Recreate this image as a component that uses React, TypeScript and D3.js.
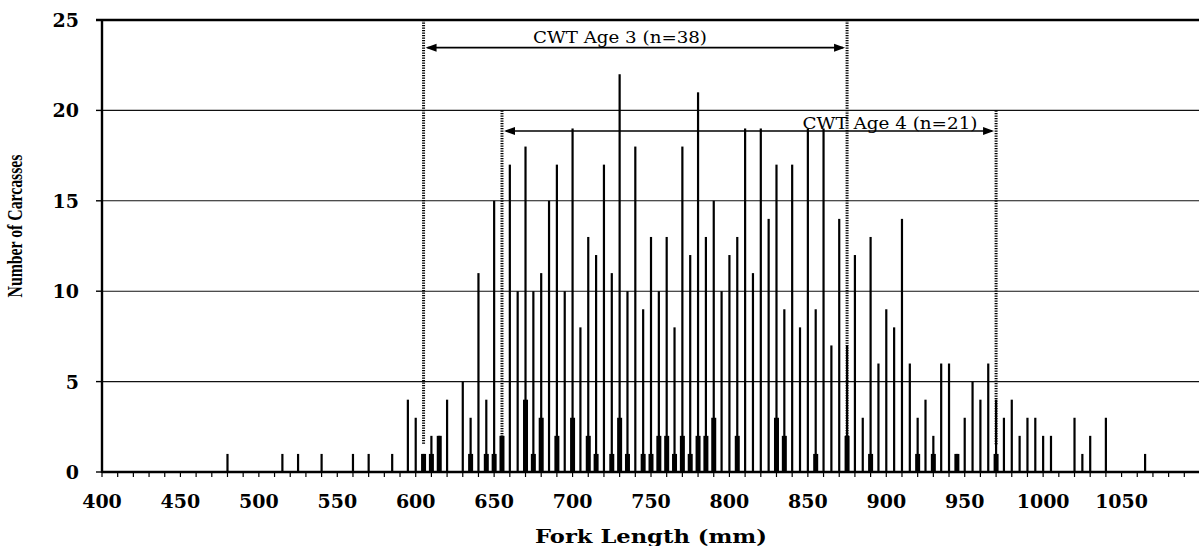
import React, { useEffect } from 'react';
import * as d3 from 'd3';

// Fork length bins (mm)
const lengthsMm = [
  480, 515, 525, 540, 560, 570, 585, 595, 600, 605,
  610, 615, 620, 630, 635, 640, 645, 650, 655, 660,
  665, 670, 675, 680, 685, 690, 695, 700, 705, 710,
  715, 720, 725, 730, 735, 740, 745, 750, 755, 760,
  765, 770, 775, 780, 785, 790, 795, 800, 805, 810,
  815, 820, 825, 830, 835, 840, 845, 850, 855, 860,
  865, 870, 875, 880, 885, 890, 895, 900, 905, 910,
  915, 920, 925, 930, 935, 940, 945, 950, 955, 960,
  965, 970, 975, 980, 985, 990, 995, 1000, 1005, 1020,
  1025, 1030, 1040, 1065,
];
// All carcasses (thin bars)
const allCarcasses = [
  1, 1, 1, 1, 1, 1, 1, 4, 3, 1,
  2, 2, 4, 5, 3, 11, 4, 15, 2, 17,
  10, 18, 10, 11, 15, 17, 10, 19, 8, 13,
  12, 17, 11, 22, 10, 18, 9, 13, 10, 13,
  8, 18, 12, 21, 13, 15, 10, 12, 13, 19,
  11, 19, 14, 17, 9, 17, 8, 19, 9, 19,
  7, 14, 7, 12, 3, 13, 6, 9, 8, 14,
  6, 3, 4, 2, 6, 6, 1, 3, 5, 4,
  6, 4, 3, 4, 2, 3, 3, 2, 2, 3,
  1, 2, 3, 1,
];
// CWT carcasses (thick bars)
const cwtCarcasses = [
  0, 0, 0, 0, 0, 0, 0, 0, 0, 1,
  1, 2, 0, 0, 1, 0, 1, 1, 2, 0,
  0, 4, 1, 3, 0, 2, 0, 3, 0, 2,
  1, 0, 1, 3, 1, 0, 1, 1, 2, 2,
  1, 2, 1, 2, 2, 3, 0, 0, 2, 0,
  0, 0, 0, 3, 2, 0, 0, 0, 1, 0,
  0, 0, 2, 0, 0, 1, 0, 0, 0, 0,
  0, 1, 0, 1, 0, 0, 1, 0, 0, 0,
  0, 1, 0, 0, 0, 0, 0, 0, 0, 0,
  0, 0, 0, 0,
];

const xTickLabels = [400, 450, 500, 550, 600, 650, 700, 750, 800, 850, 900, 950, 1000, 1050];
const yTicks = [0, 5, 10, 15, 20, 25];

const ageLabels = ['CWT Age 3 (n=38)', 'CWT Age 4 (n=21)'];
const ageFrom = [605, 655];
const ageTo = [875, 970];
const ageTop = [25, 20];
const ageArrowAt = [23.47, 18.86];

export default function App() {
  useEffect(() => {
    document.body.style.margin = '0';
  }, []);

  const W = 1199;
  const H = 546;
  const x = d3.scaleLinear().domain([400, 1100]).range([102, 1200]);
  const y = d3.scaleLinear().domain([0, 25]).range([472, 20]);

  const minorTicks = d3.range(400, 1101, 10);
  const thinW = 2.2;
  const thickW = 5;
  const serif = '"DejaVu Serif", "Liberation Serif", serif';

  return (
    <svg width={W} height={H} style={{ display: 'block', background: '#fff' }}>
      {/* gridlines */}
      {yTicks.filter((t) => t > 0 && t < 25).map((t) => (
        <line key={'g' + t} x1={x(400)} x2={W} y1={y(t)} y2={y(t)} stroke="#111" strokeWidth={1.1} />
      ))}
      {/* top border */}
      <line x1={x(400) - 6} x2={W} y1={y(25)} y2={y(25)} stroke="#000" strokeWidth={2.4} />

      {/* bars: all carcasses */}
      {lengthsMm.map((mm, i) => (
        <rect key={'a' + mm} x={x(mm) - thinW / 2} y={y(allCarcasses[i])} width={thinW}
          height={y(0) - y(allCarcasses[i])} fill="#000" />
      ))}
      {/* bars: CWT */}
      {lengthsMm.map((mm, i) =>
        cwtCarcasses[i] > 0 ? (
          <rect key={'c' + mm} x={x(mm) - thickW / 2} y={y(cwtCarcasses[i])} width={thickW}
            height={y(0) - y(cwtCarcasses[i])} fill="#000" />
        ) : null
      )}

      {/* age range annotations */}
      {ageLabels.map((lab, i) => {
        const x0 = x(ageFrom[i]);
        const x1 = x(ageTo[i]);
        const ya = y(ageArrowAt[i]);
        return (
          <g key={'age' + i}>
            <line x1={x0} x2={x0} y1={y(ageTop[i])} y2={y(1.5)} stroke="#000" strokeWidth={3} strokeDasharray="1.3,1.2" />
            <line x1={x1} x2={x1} y1={y(ageTop[i])} y2={y(1.5)} stroke="#000" strokeWidth={3} strokeDasharray="1.3,1.2" />
            <line x1={x0 + 4} x2={x1 - 4} y1={ya} y2={ya} stroke="#000" strokeWidth={1.6} />
            <path d={`M${x0 + 2},${ya} L${x0 + 13},${ya - 4} L${x0 + 13},${ya + 4} Z`} fill="#000" />
            <path d={`M${x1 - 2},${ya} L${x1 - 13},${ya - 4} L${x1 - 13},${ya + 4} Z`} fill="#000" />
          </g>
        );
      })}
      <text x={620} y={43} fontFamily={serif} fontSize={16} textAnchor="middle" textLength={174}
        lengthAdjust="spacingAndGlyphs" fill="#000">{ageLabels[0]}</text>
      <rect x={803} y={116} width={8} height={0} fill="none" />
      <text x={890} y={129} fontFamily={serif} fontSize={16} textAnchor="middle" textLength={175}
        lengthAdjust="spacingAndGlyphs" fill="#000">{ageLabels[1]}</text>

      {/* axes */}
      <line x1={x(400)} x2={x(400)} y1={y(25) - 1} y2={y(0) + 1} stroke="#000" strokeWidth={2.4} />
      <line x1={x(400)} x2={W} y1={y(0)} y2={y(0)} stroke="#000" strokeWidth={2.4} />
      {minorTicks.map((t) => (
        <line key={'xt' + t} x1={x(t)} x2={x(t)} y1={y(0)} y2={y(0) + 5} stroke="#000" strokeWidth={1.2} />
      ))}
      {yTicks.map((t) => (
        <line key={'yt' + t} x1={x(400) - 6} x2={x(400)} y1={y(t)} y2={y(t)} stroke="#000" strokeWidth={1.4} />
      ))}

      {/* tick labels */}
      {xTickLabels.map((t) => (
        <text key={'xl' + t} x={x(t)} y={508} fontFamily={serif} fontWeight="bold" fontSize={19}
          textAnchor="middle" fill="#000">{t}</text>
      ))}
      {yTicks.map((t) => (
        <text key={'yl' + t} x={79} y={y(t) + 7} fontFamily={serif} fontWeight="bold" fontSize={19}
          textAnchor="end" fill="#000">{t}</text>
      ))}

      {/* axis titles */}
      <text x={651} y={543} fontFamily={serif} fontWeight="bold" fontSize={19} textAnchor="middle"
        textLength={232} lengthAdjust="spacingAndGlyphs" fill="#000">Fork Length (mm)</text>
      <text transform={`translate(22, 226) rotate(-90)`} fontFamily='"Liberation Serif", serif' fontWeight="bold"
        fontSize={20} textAnchor="middle" textLength={143} lengthAdjust="spacingAndGlyphs" fill="#000">
        Number of Carcasses
      </text>
    </svg>
  );
}
